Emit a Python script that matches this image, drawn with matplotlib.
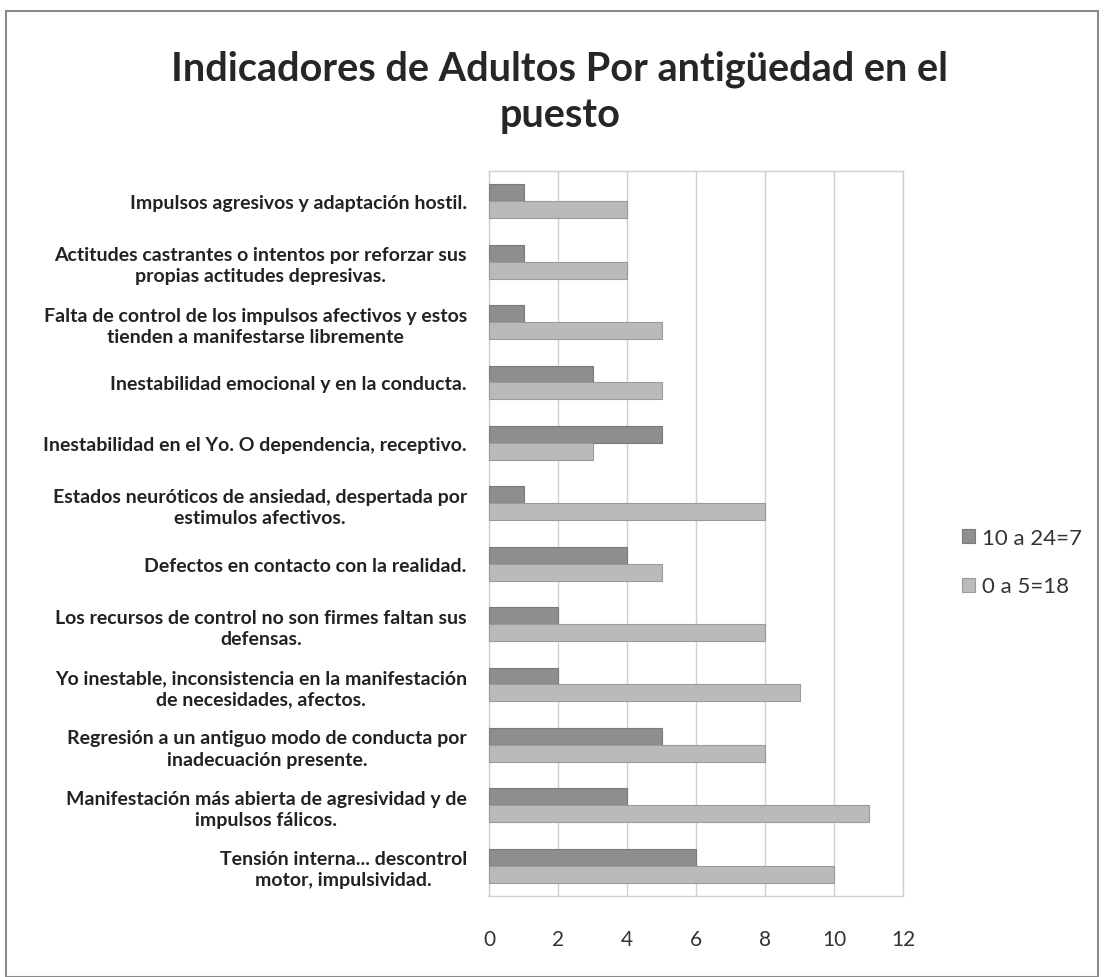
import matplotlib
matplotlib.use("Agg")
import matplotlib.pyplot as plt
from matplotlib.patches import Rectangle
import numpy as np

categories = [
    "Impulsos agresivos y adaptación hostil.",
    "Actitudes castrantes o intentos por reforzar sus\npropias actitudes depresivas.",
    "Falta de control de los impulsos afectivos y estos\ntienden a manifestarse libremente",
    "Inestabilidad emocional y en la conducta.",
    "Inestabilidad en el Yo. O dependencia, receptivo.",
    "Estados neuróticos de ansiedad, despertada por\nestimulos afectivos.",
    "Defectos en contacto con la realidad.",
    "Los recursos de control no son firmes faltan sus\ndefensas.",
    "Yo inestable, inconsistencia en la manifestación\nde necesidades, afectos.",
    "Regresión a un antiguo modo de conducta por\ninadecuación presente.",
    "Manifestación más abierta de agresividad y de\nimpulsos fálicos.",
    "Tensión interna... descontrol\nmotor, impulsividad.",
]
series_names = ["10 a 24=7", "0 a 5=18"]
vals_10_24 = [1, 1, 1, 3, 5, 1, 4, 2, 2, 5, 4, 6]
vals_0_5 = [4, 4, 5, 5, 3, 8, 5, 8, 9, 8, 11, 10]
xticks = [0, 2, 4, 6, 8, 10, 12]

plt.rcParams['font.family'] = ['Lato', 'DejaVu Sans']

fig = plt.figure(figsize=(11.04, 9.78), dpi=100)
ax = fig.add_axes([0.443, 0.083, 0.375, 0.741])

n = len(categories)
y = np.arange(n)
h = 0.28
dark = "#8e8e8e"
light = "#bababa"
ax.barh(y - h / 2, vals_10_24, height=h, color=dark, edgecolor="#7a7a7a", linewidth=0.8,
        label=series_names[0], zorder=3)
ax.barh(y + h / 2, vals_0_5, height=h, color=light, edgecolor="#9a9a9a", linewidth=0.8,
        label=series_names[1], zorder=3)

ax.set_ylim(n - 0.5, -0.5)
ax.set_xlim(0, 12)
ax.set_xticks(xticks)
ax.set_xticklabels([str(t) for t in xticks], fontsize=15, color="#333333")
ax.set_yticks(y)
ax.set_yticklabels(categories, fontsize=14, fontweight="bold", color="#222222",
                   multialignment="center", linespacing=1.3)
ax.tick_params(axis="both", length=0)
ax.tick_params(axis="x", pad=24)
ax.tick_params(axis="y", pad=16)
ax.grid(axis="x", color="#d0d0d0", linewidth=1, zorder=0)
for s in ax.spines.values():
    s.set_color("#d0d0d0")
    s.set_linewidth(1)

fig.suptitle("Indicadores de Adultos Por antigüedad en el\npuesto", x=0.507, y=0.948,
             fontsize=28.5, fontweight="bold", color="#262626", linespacing=1.3)

leg = fig.legend(loc="upper left", bbox_to_anchor=(0.853, 0.480), frameon=False,
                 fontsize=16, handlelength=0.6, handleheight=0.6, handletextpad=0.3,
                 labelspacing=1.3)
for t in leg.get_texts():
    t.set_color("#333333")

fig.patches.append(Rectangle((0.005, 0.0), 0.99, 0.988, transform=fig.transFigure,
                             fill=False, edgecolor="#8a8a8a", linewidth=1.5))

fig.savefig("out.png", dpi=100)
